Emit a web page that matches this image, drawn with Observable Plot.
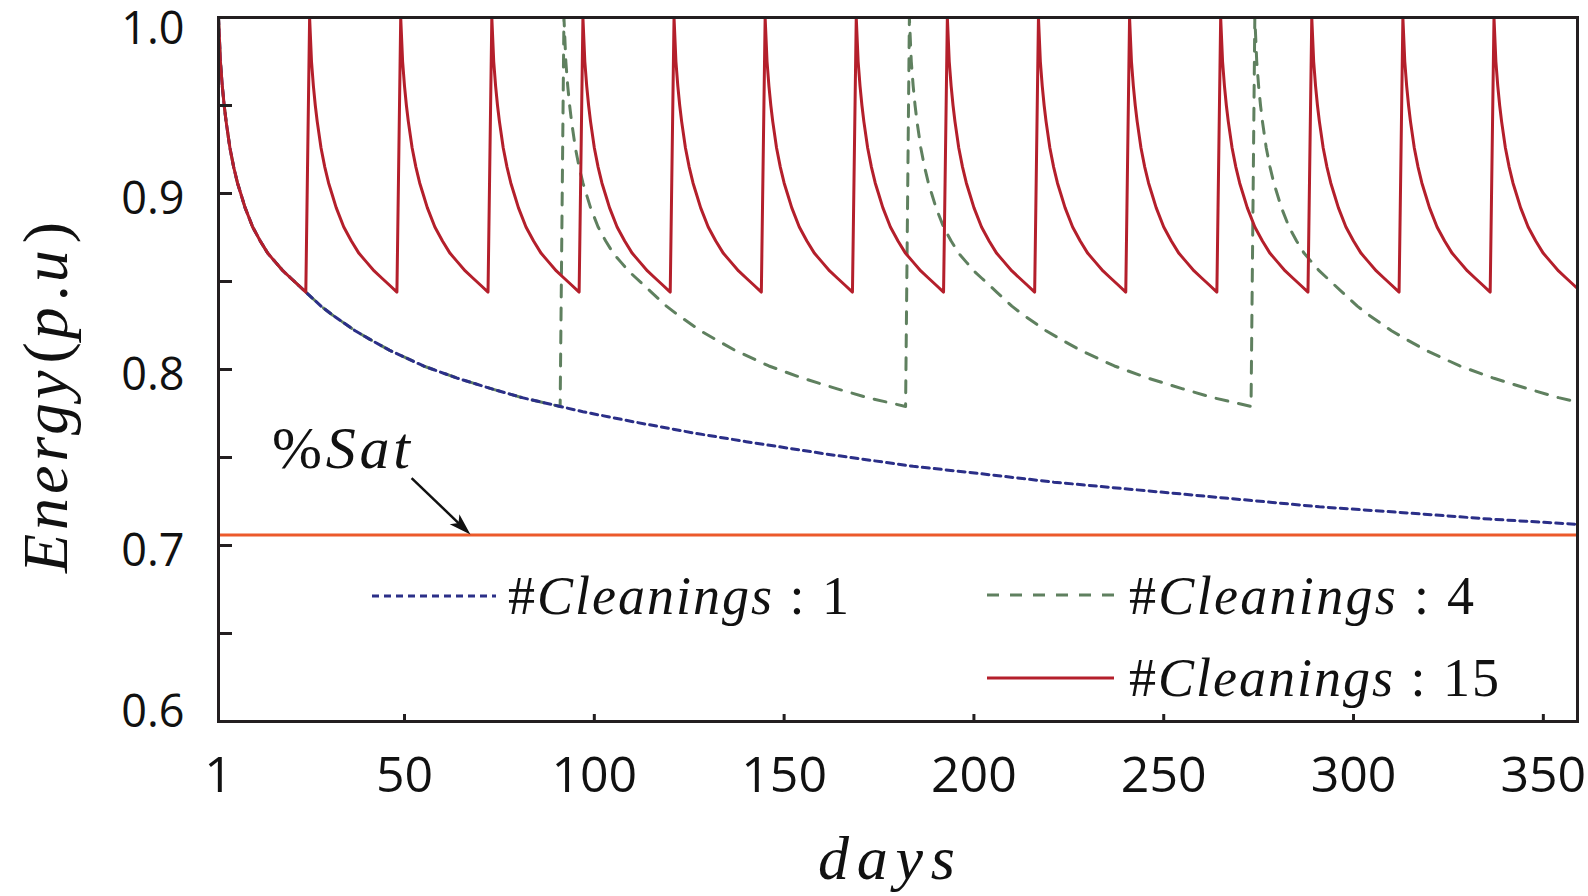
<!DOCTYPE html>
<html>
<head>
<meta charset="utf-8">
<script src="https://cdn.jsdelivr.net/npm/d3@7"></script>
<script src="https://cdn.jsdelivr.net/npm/@observablehq/plot@0.6"></script>
<style>
  html, body { margin: 0; padding: 0; background: #fff; }
  svg { display: block; }
</style>
</head>
<body>
<div id="chart"></div>
<script>
// Last day shown on the x axis
const lastDay = 359;

// Energy (p.u) of a panel versus days elapsed since its last cleaning
const agingDays   = [0, 0.5, 1, 1.5, 2, 3, 4, 5, 6, 7, 9, 11, 13, 15, 17, 19, 21, 23, 24, 27, 30,
                     36, 40, 45, 54, 63, 72, 80, 90, 96, 110, 125, 139, 160, 183, 200, 220, 240, 265, 290, 310, 335, 358];
const agingEnergy = [1.000, 0.975, 0.961, 0.950, 0.941, 0.926, 0.915, 0.906, 0.899, 0.892, 0.881, 0.873, 0.866, 0.861, 0.856, 0.852, 0.848, 0.844, 0.842, 0.836, 0.831,
                     0.822, 0.817, 0.811, 0.802, 0.795, 0.789, 0.784, 0.779, 0.776, 0.770, 0.764, 0.759, 0.752, 0.745, 0.741, 0.736, 0.732, 0.727, 0.722, 0.719, 0.715, 0.712];

// Cleaning days for each maintenance plan
const cleanings1  = [1];
const cleanings4  = [1, 92, 183, 274];
const cleanings15 = [1, 25, 49, 73, 97, 121, 145, 169, 193, 217, 241, 265, 289, 313, 337];

// Saturation threshold and its annotation
const satLevel = 0.706;
const satArrow = {fromDay: 52, fromEnergy: 0.738, toDay: 67.5};

// Axis ticks and labels
const xTicks  = [50, 100, 150, 200, 250, 300, 350];
const xLabels = [1, 50, 100, 150, 200, 250, 300, 350];
const yTicks  = [0.6, 0.65, 0.7, 0.75, 0.8, 0.85, 0.9, 0.95, 1.0];
const yLabelsTop = [1.0];
const yLabelsMid = [0.9, 0.8, 0.7];
const yLabelsBottom = [0.6];

const seriesLabels = ["1", "4", "15"];

const colors = {blue: "#2b2f88", green: "#5f805f", red: "#b41f2b", orange: "#ec5a2b", ink: "#231f20"};

// Energy trace of one plan: each cleaning restarts the aging profile
function energySeries(cleanDays) {
  const rows = [];
  cleanDays.forEach((start, i) => {
    const end = i + 1 < cleanDays.length ? cleanDays[i + 1]
      : cleanDays.length > 1 ? start + (start - cleanDays[i - 1]) : Infinity;
    agingDays.forEach((t, j) => {
      if (start + t < end) rows.push({day: start + t, energy: agingEnergy[j]});
    });
  });
  return rows;
}

const plan1 = energySeries(cleanings1);
const plan4 = energySeries(cleanings4);
const plan15 = energySeries(cleanings15);

const W = 1588, H = 896;
const mL = 218, mR = 11, mT = 17, mB = 175;
const frameW = W - mL - mR, frameH = H - mT - mB;

const tickFont = {fontFamily: "Open Sans", fill: "#111"};

const plot = Plot.plot({
  width: W,
  height: H,
  marginLeft: mL,
  marginRight: mR,
  marginTop: mT,
  marginBottom: mB,
  style: {background: "#fff"},
  x: {domain: [1, lastDay], axis: null},
  y: {domain: [0.6, 1.0], axis: null},
  marks: [
    Plot.ruleY([satLevel], {y: d => d, stroke: colors.orange, strokeWidth: 3}),
    Plot.line(plan4, {x: "day", y: "energy", stroke: colors.green, strokeWidth: 3, strokeDasharray: "12,11", clip: true}),
    Plot.line(plan1, {x: "day", y: "energy", stroke: colors.blue, strokeWidth: 3, strokeDasharray: "7,5", clip: true}),
    Plot.line(plan15, {x: "day", y: "energy", stroke: colors.red, strokeWidth: 3, clip: true}),
    Plot.frame({stroke: colors.ink, strokeWidth: 3}),
    Plot.tickY(yTicks, {y: d => d, stroke: colors.ink, strokeWidth: 3, insetRight: frameW - 14}),
    Plot.tickX(xTicks, {x: d => d, stroke: colors.ink, strokeWidth: 3, insetTop: frameH - 7}),
    Plot.text(xLabels, {x: d => d, text: d => String(d), frameAnchor: "bottom", dy: 70, fontSize: 50, ...tickFont}),
    Plot.text(yLabelsTop, {y: d => d, text: d => d.toFixed(1), frameAnchor: "left", dx: -34, dy: 12, textAnchor: "end", fontSize: 45, ...tickFont}),
    Plot.text(yLabelsMid, {y: d => d, text: d => d.toFixed(1), frameAnchor: "left", dx: -34, dy: 6, textAnchor: "end", fontSize: 45, ...tickFont}),
    Plot.text(yLabelsBottom, {y: d => d, text: d => d.toFixed(1), frameAnchor: "left", dx: -34, dy: -8.5, textAnchor: "end", fontSize: 45, ...tickFont})
  ]
});

document.getElementById("chart").appendChild(plot);

// Titles, annotation and legend in the math-italic style
const svg = d3.select(plot);
const serif = "'Liberation Serif', 'Times New Roman', serif";

// Writes a run of upright / italic pieces from a start point, then spreads letters to the wanted width
function mathText(parent, parts, attrs, width) {
  const t = parent.append("text")
    .attr("font-family", serif)
    .attr("text-anchor", "start")
    .attr("fill", "#111");
  Object.entries(attrs).forEach(([k, v]) => t.attr(k, v));
  parts.forEach(([s, italic]) => {
    t.append("tspan").attr("font-style", italic ? "italic" : "normal").text(s);
  });
  const natural = t.node().getComputedTextLength();
  const n = parts.reduce((acc, [s]) => acc + s.length, 0);
  if (width && n > 1) t.attr("letter-spacing", (width - natural) / (n - 1));
  return t;
}

// y-axis title, written upward along the left edge, one piece after another
const yTitle = svg.append("g").attr("transform", "translate(67,573) rotate(-90)");
const yTitleParts = [["Energy", true, 0], ["(", false, 3], ["p", true, 3], [".", false, 2], ["u", true, 3], [")", false, 3]];
let cursor = 0;
yTitleParts.forEach(([s, italic, gap]) => {
  cursor += gap;
  const piece = yTitle.append("text")
    .attr("x", cursor)
    .attr("y", 0)
    .attr("font-family", serif)
    .attr("font-style", italic ? "italic" : "normal")
    .attr("font-size", 64)
    .attr("letter-spacing", italic ? 4 : 0)
    .attr("text-anchor", "start")
    .attr("fill", "#111")
    .text(s);
  cursor += piece.node().getComputedTextLength();
});

mathText(svg, [["days", true]], {
  x: 818, y: 879, "font-size": 62
}, 137);

mathText(svg, [["%", false], ["Sat", true]], {
  x: 272, y: 468, "font-size": 60
}, 138);

// Arrow from the annotation to the saturation line
const xs = plot.scale("x"), ys = plot.scale("y");
const ax0 = xs.apply(satArrow.fromDay), ay0 = ys.apply(satArrow.fromEnergy);
const ax1 = xs.apply(satArrow.toDay), ay1 = ys.apply(satLevel);
const ang = Math.atan2(ay1 - ay0, ax1 - ax0);
const headLen = 22, headHalf = 7;
const bx = ax1 - headLen * Math.cos(ang), by = ay1 - headLen * Math.sin(ang);
svg.append("line")
  .attr("x1", ax0).attr("y1", ay0)
  .attr("x2", ax1 - 0.7 * headLen * Math.cos(ang)).attr("y2", ay1 - 0.7 * headLen * Math.sin(ang))
  .attr("stroke", "#111").attr("stroke-width", 2.5);
svg.append("path")
  .attr("d", `M${ax1},${ay1}L${bx - headHalf * Math.sin(ang)},${by + headHalf * Math.cos(ang)}L${ax1 - 0.75 * headLen * Math.cos(ang)},${ay1 - 0.75 * headLen * Math.sin(ang)}L${bx + headHalf * Math.sin(ang)},${by - headHalf * Math.cos(ang)}Z`)
  .attr("fill", "#111");

// Legend
const legend = svg.append("g");
const legendRows = [
  {x1: 372, x2: 496, y: 596, stroke: colors.blue, dash: "7,5", tx: 508, ty: 614, len: 341, label: seriesLabels[0]},
  {x1: 987, x2: 1114, y: 595, stroke: colors.green, dash: "12,11", tx: 1129, ty: 614, len: 345, label: seriesLabels[1]},
  {x1: 987, x2: 1114, y: 678, stroke: colors.red, dash: null, tx: 1129, ty: 696, len: 370, label: seriesLabels[2]}
];
legendRows.forEach(r => {
  legend.append("line")
    .attr("x1", r.x1).attr("x2", r.x2).attr("y1", r.y).attr("y2", r.y)
    .attr("stroke", r.stroke).attr("stroke-width", 3)
    .attr("stroke-dasharray", r.dash);
  mathText(legend, [["#", false], ["Cleanings", true], [" : " + r.label, false]], {
    x: r.tx, y: r.ty, "font-size": 54
  }, r.len);
});
</script>
</body>
</html>
